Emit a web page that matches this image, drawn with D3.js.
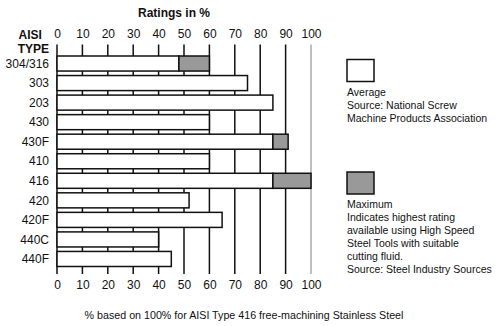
<!DOCTYPE html>
<html>
<head>
<meta charset="utf-8">
<script src="https://cdn.jsdelivr.net/npm/d3@7"></script>
<style>
  html, body { margin: 0; padding: 0; background: #fff; }
  svg { display: block; font-family: Arial, "Liberation Sans", sans-serif; }
  text { fill: #111; }
</style>
</head>
<body>
<svg id="chart" width="500" height="326"></svg>
<script>
// Machinability ratings by AISI stainless steel type
const types    = ["304/316", "303", "203", "430", "430F", "410", "416", "420", "420F", "440C", "440F"];
const average  = [48, 75, 85, 60, 85, 60, 85, 52, 65, 40, 45];
const maximum  = [60, null, null, null, 91, null, 100, null, null, null, null];
const ticks    = [0, 10, 20, 30, 40, 50, 60, 70, 80, 90, 100];

const averageNote = ["Average", "Source: National Screw", "Machine Products Association"];
const maximumNote = ["Maximum", "Indicates highest rating", "available using High Speed",
                     "Steel Tools with suitable", "cutting fluid.", "Source: Steel Industry Sources"];

const svg = d3.select("#chart");

const x = d3.scaleLinear().domain([0, 100]).range([57, 311]);
const y = d3.scaleBand().domain(types).range([56, 266.5]).paddingInner(0.23).paddingOuter(0);

const gridTop = 44.5, gridBottom = 274;
const grey = "#999";

// Title
svg.append("text")
  .attr("x", 174).attr("y", 17)
  .attr("text-anchor", "middle")
  .attr("font-size", 12).attr("font-weight", "bold")
  .text("Ratings in %");

// Column heading
svg.append("text").attr("x", 18.5).attr("y", 38.5)
  .attr("font-size", 12).attr("font-weight", "bold").text("AISI");
svg.append("text").attr("x", 49).attr("y", 53)
  .attr("text-anchor", "end")
  .attr("font-size", 12).attr("font-weight", "bold").text("TYPE");

// Vertical grid lines
svg.append("g").selectAll("line").data(ticks).join("line")
  .attr("x1", d => x(d)).attr("x2", d => x(d))
  .attr("y1", gridTop).attr("y2", gridBottom)
  .attr("stroke", d => d === 100 ? "#aaa" : "#111")
  .attr("stroke-width", 1.5);

// Top and bottom scale labels
const topAxis = d3.axisTop(x).tickValues(ticks).tickSize(0).tickPadding(0).tickFormat(d3.format("d"));
const gTop = svg.append("g").attr("transform", "translate(0,34)").call(topAxis);
const bottomAxis = d3.axisBottom(x).tickValues(ticks).tickSize(0).tickPadding(0).tickFormat(d3.format("d"));
const gBot = svg.append("g").attr("transform", "translate(0,280)").call(bottomAxis);
[gTop, gBot].forEach(g => {
  g.select(".domain").remove();
  g.selectAll("text").attr("font-size", 12).attr("fill", "#111")
    .attr("font-family", "Arial, 'Liberation Sans', sans-serif");
});
gTop.selectAll("text").attr("dy", "0.35em");
gBot.selectAll("text").attr("dy", "0.35em").attr("y", 5);

// Bars: white average, grey extension up to the maximum
const rows = types.map((t, i) => ({ type: t, avg: average[i], max: maximum[i] }));
const bars = svg.append("g");
bars.selectAll("rect.avg").data(rows).join("rect")
  .attr("class", "avg")
  .attr("x", x(0)).attr("y", d => y(d.type))
  .attr("width", d => x(d.avg) - x(0)).attr("height", y.bandwidth())
  .attr("fill", "#fff").attr("stroke", "#111").attr("stroke-width", 1.5);
bars.selectAll("rect.max").data(rows.filter(d => d.max != null)).join("rect")
  .attr("class", "max")
  .attr("x", d => x(d.avg)).attr("y", d => y(d.type))
  .attr("width", d => x(d.max) - x(d.avg)).attr("height", y.bandwidth())
  .attr("fill", grey).attr("stroke", "#111").attr("stroke-width", 1.5);

// Category labels
svg.append("g").selectAll("text").data(types).join("text")
  .attr("x", 49).attr("y", d => y(d) + y.bandwidth() / 2)
  .attr("dy", "0.35em")
  .attr("text-anchor", "end")
  .attr("font-size", 12)
  .text(d => d);

// Legend
function legend(top, fill, lines) {
  svg.append("rect")
    .attr("x", 347).attr("y", top).attr("width", 27).attr("height", 22)
    .attr("fill", fill).attr("stroke", "#111").attr("stroke-width", 1.5);
  svg.append("g").selectAll("text").data(lines).join("text")
    .attr("x", 347).attr("y", (d, i) => top + 36 + i * 13)
    .attr("font-size", 10.5)
    .text(d => d);
}
legend(59.5, "#fff", averageNote);
legend(172, grey, maximumNote);

// Footnote
svg.append("text")
  .attr("x", 244).attr("y", 319)
  .attr("text-anchor", "middle")
  .attr("font-size", 10.7)
  .text("% based on 100% for AISI Type 416 free-machining Stainless Steel");
</script>
</body>
</html>
